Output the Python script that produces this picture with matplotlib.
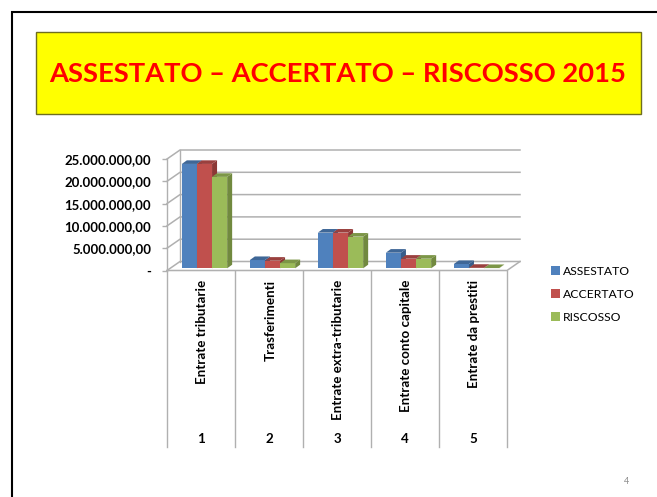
#!/usr/bin/env python3
"""Slide with a pseudo-3D clustered bar chart: assestato, accertato, riscosso 2015."""

import matplotlib as mpl

mpl.use("Agg")
import matplotlib.pyplot as plt
import numpy as np
from matplotlib.patches import Polygon, Rectangle

categories = [
    "Entrate tributarie",
    "Trasferimenti",
    "Entrate extra-tributarie",
    "Entrate conto capitale",
    "Entrate da prestiti",
]
row_numbers = ["1", "2", "3", "4", "5"]
series_names = ["ASSESTATO", "ACCERTATO", "RISCOSSO"]
assestato = [23400000, 1850000, 8000000, 3500000, 960000]
accertato = [23400000, 1700000, 8000000, 2150000, 100000]
riscosso = [20500000, 1150000, 7100000, 2150000, 50000]
y_ticks = [0, 5000000, 10000000, 15000000, 20000000, 25000000]
y_labels = ["-", "5.000.000,00", "10.000.000,00", "15.000.000,00", "20.000.000,00", "25.000.000,00"]

W, H = 657, 497
front = "#4F81BD", "#C0504D", "#9BBB59"
side = "#385D8A", "#8C3836", "#71893F"
top = "#3F6797", "#9A403E", "#7C9647"
grid = "#B0B0B0"

plt.rcParams["font.family"] = ["Lato", "DejaVu Sans"]
fig = plt.figure(figsize=(W / 100, H / 100), dpi=100, facecolor="white")

# slide frame and title box, in pixels from the top left
bg = fig.add_axes([0, 0, 1, 1])
bg.set_xlim(0, W)
bg.set_ylim(H, 0)
bg.axis("off")
bg.plot([12, 12, W], [H, 12, 12], color="black", lw=1.5, solid_joinstyle="miter")
bg.add_patch(Rectangle((36, 31.5), 604.5, 82.5, fc="#FFFF00", ec="#6E6E20", lw=1))
bg.text(338, 74, "ASSESTATO – ACCERTATO – RISCOSSO 2015", color="#FF0000", fontsize=19.7,
        fontweight="bold", ha="center", va="center")
bg.text(627, 482, "4", color="#8C8C8C", fontsize=6.5, ha="center", va="center")

# axes = front plane of the 3D box
x0, x1, y0, y25 = 167, 507, 270.5, 159
ax = fig.add_axes([x0 / W, 1 - y0 / H, (x1 - x0) / W, (y0 - y25) / H])
ax.set_xlim(0, 5)
ax.set_ylim(0, 25000000)
ax.patch.set_alpha(0)
for s in ax.spines.values():
    s.set_visible(False)

px_x = 5 / (x1 - x0)
px_y = 25000000 / (y0 - y25)
wall_dx, wall_dy = 13 * px_x, 9 * px_y

# walls and gridlines
for v in y_ticks:
    ax.plot([0, wall_dx, 5 + wall_dx], [v, v + wall_dy, v + wall_dy], color=grid, lw=1.1, clip_on=False)
ax.plot([wall_dx, wall_dx], [wall_dy, 25000000 + wall_dy], color=grid, lw=1, clip_on=False)
ax.plot([0, 0], [0, 25000000], color=grid, lw=1, clip_on=False)
ax.plot([0, 5, 5 + wall_dx], [0, 0, wall_dy], color=grid, lw=1.1, clip_on=False)

# bars
bar_w = 15.1 * px_x
off_x, off_y = 3.5 * px_x, 2.2 * px_y
dep_x, dep_y = 5 * px_x, 3.6 * px_y
for i, values in enumerate([assestato, accertato, riscosso]):
    xs = np.arange(5) + 0.5 + off_x + (i - 1) * bar_w
    ax.bar(xs, values, width=bar_w, bottom=off_y, color=front[i], lw=0, zorder=3 + i, clip_on=False)
    for x, v in zip(xs, values):
        l, r, b, t = x - bar_w / 2, x + bar_w / 2, off_y, off_y + v
        ax.add_patch(Polygon([(r, b), (r + dep_x, b + dep_y), (r + dep_x, t + dep_y), (r, t)],
                             fc=side[i], lw=0, zorder=3 + i, clip_on=False))
        ax.add_patch(Polygon([(l, t), (l + dep_x, t + dep_y), (r + dep_x, t + dep_y), (r, t)],
                             fc=top[i], lw=0, zorder=3 + i, clip_on=False))

# y axis labels
ax.set_yticks(y_ticks, y_labels, fontsize=9.5, fontweight="bold", color="black")
ax.tick_params(axis="y", length=3.5, color=grid, width=1, pad=8)
ax.set_xticks([])

# table-like category axis
for k in range(6):
    ax.plot([k, k], [0, -39500000], color=grid, lw=1, clip_on=False)
for k in range(5):
    ax.text(k + 0.52, -2100000, categories[k], rotation=90, ha="center", va="top", fontsize=9.6,
            fontweight="bold", color="black", clip_on=False)
    ax.text(k + 0.5, -37700000, row_numbers[k], ha="center", va="center", fontsize=9.6,
            fontweight="bold", color="black", clip_on=False)

# legend
handles = [Rectangle((0, 0), 1, 1, fc=c, lw=0) for c in front]
fig.legend(handles, series_names, loc="upper left", bbox_to_anchor=(551 / W, 1 - 266 / H), frameon=False,
           fontsize=8.7, handlelength=0.74, handleheight=0.74, handletextpad=0.25, labelspacing=0.98,
           borderpad=0, borderaxespad=0)

fig.savefig("out.png", dpi=100)
